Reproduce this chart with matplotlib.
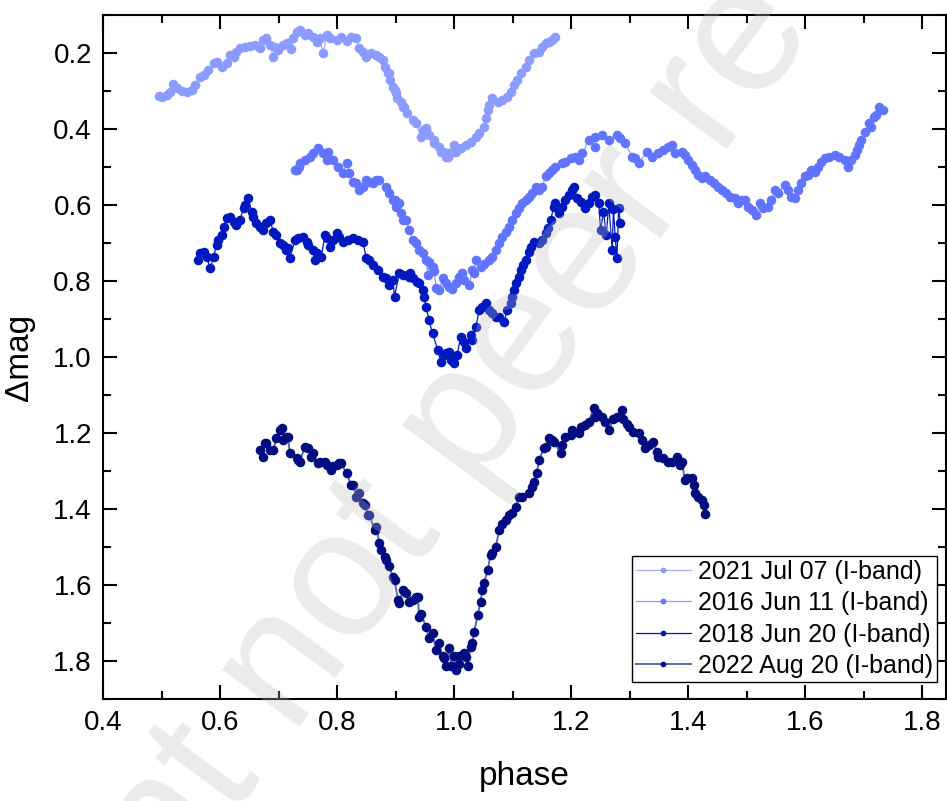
import matplotlib
matplotlib.use("Agg")
import matplotlib.pyplot as plt
from matplotlib.ticker import MultipleLocator
import numpy as np

plt.rcParams['font.family'] = ['Liberation Sans', 'DejaVu Sans']

labels = ["2021 Jul 07 (I-band)", "2016 Jun 11 (I-band)",
          "2018 Jun 20 (I-band)", "2022 Aug 20 (I-band)"]

ph_2021 = [0.495, 0.509, 0.520, 0.535, 0.552, 0.566, 0.589, 0.611, 0.617, 0.634, 0.651, 0.668, 0.679,
           0.691, 0.694, 0.708, 0.722, 0.731, 0.745, 0.759, 0.765, 0.776, 0.782, 0.799, 0.816, 0.833,
           0.838, 0.850, 0.867, 0.872, 0.878, 0.887, 0.889, 0.895, 0.898, 0.903, 0.912, 0.915, 0.929,
           0.943, 0.946, 0.952, 0.957, 0.966, 0.974, 0.977, 0.986, 0.989, 0.991, 0.999, 1.003, 1.020,
           1.037, 1.051, 1.057, 1.065, 1.082, 1.097, 1.108, 1.122, 1.136, 1.150, 1.162, 1.173,
           0.501, 0.515, 0.526, 0.543, 0.557, 0.572, 0.580, 0.594, 0.603, 0.623, 0.628, 0.643, 0.660,
           0.674, 0.685, 0.699, 0.714, 0.725, 0.736, 0.750, 0.770, 0.787, 0.807, 0.824, 0.844, 0.858,
           0.881, 0.890, 0.901, 0.909, 0.920, 0.935, 0.952, 0.966, 0.983, 0.994, 1.011, 1.028, 1.043,
           1.054, 1.060, 1.074, 1.091, 1.102, 1.114, 1.128, 1.145, 1.156, 1.167]
mag_2021 = [0.313, 0.311, 0.282, 0.299, 0.297, 0.262, 0.227, 0.227, 0.205, 0.188, 0.182, 0.188, 0.161,
            0.210, 0.183, 0.179, 0.190, 0.144, 0.153, 0.157, 0.170, 0.201, 0.153, 0.166, 0.168, 0.161,
            0.188, 0.210, 0.205, 0.210, 0.218, 0.253, 0.253, 0.289, 0.297, 0.319, 0.341, 0.341, 0.376,
            0.420, 0.403, 0.403, 0.416, 0.438, 0.447, 0.460, 0.473, 0.474, 0.464, 0.442, 0.460, 0.442,
            0.420, 0.394, 0.350, 0.319, 0.324, 0.302, 0.271, 0.236, 0.201, 0.183, 0.170, 0.159,
            0.317, 0.302, 0.293, 0.302, 0.284, 0.258, 0.245, 0.223, 0.236, 0.210, 0.197, 0.183, 0.179,
            0.166, 0.179, 0.192, 0.174, 0.161, 0.140, 0.148, 0.161, 0.161, 0.157, 0.157, 0.197, 0.201,
            0.236, 0.271, 0.306, 0.328, 0.359, 0.385, 0.398, 0.429, 0.460, 0.464, 0.451, 0.433, 0.411,
            0.372, 0.337, 0.328, 0.315, 0.284, 0.253, 0.218, 0.197, 0.174, 0.166]

ph_2016 = [0.728, 0.731, 0.736, 0.753, 0.767, 0.782, 0.784, 0.793, 0.810, 0.816, 0.827, 0.838, 0.845,
           0.855, 0.867, 0.872, 0.884, 0.889, 0.895, 0.901, 0.906, 0.912, 0.918, 0.929, 0.940, 0.946,
           0.952, 0.955, 0.963, 0.969, 0.974, 0.980, 0.991, 1.003, 1.008, 1.014, 1.026, 1.031, 1.037,
           1.045, 1.060, 1.071, 1.082, 1.094, 1.105, 1.116, 1.122, 1.133, 1.139, 1.150, 1.156, 1.167,
           1.184, 1.207, 1.213, 1.230, 1.241, 1.252, 1.278, 1.292, 1.304, 1.315, 1.329, 1.349, 1.366,
           1.377, 1.389, 1.400, 1.411, 1.423, 1.437, 1.451, 1.465, 1.480, 1.491, 1.502, 1.516, 1.522,
           1.536, 1.548, 1.565, 1.576, 1.587, 1.599, 1.610, 1.621, 1.633, 1.650, 1.667, 1.672, 1.684,
           1.692, 1.701, 1.709, 1.718, 1.726, 1.732,
           1.219, 1.241, 1.264, 1.284, 1.309, 1.338, 1.357, 1.372, 1.394, 1.406, 1.417, 1.428, 1.443,
           1.457, 1.471, 1.485, 1.497, 1.508, 1.528, 1.542, 1.553, 1.570, 1.582, 1.593, 1.604, 1.616,
           1.627, 1.641, 1.658, 1.678, 1.689, 1.695, 1.712, 1.720,
           0.734, 0.745, 0.759, 0.776, 0.801, 0.821, 0.833, 0.850, 0.862, 0.898, 0.909, 0.923, 0.935,
           0.957, 0.966, 0.986, 0.997, 1.017, 1.034, 1.051, 1.065, 1.077, 1.088, 1.099, 1.111, 1.128,
           1.145, 1.162, 1.173, 1.190, 1.199]
mag_2016 = [0.508, 0.508, 0.490, 0.473, 0.451, 0.482, 0.460, 0.482, 0.517, 0.490, 0.539, 0.561, 0.552,
            0.539, 0.534, 0.534, 0.552, 0.569, 0.587, 0.604, 0.596, 0.639, 0.639, 0.692, 0.718, 0.727,
            0.745, 0.784, 0.762, 0.819, 0.824, 0.793, 0.815, 0.806, 0.789, 0.780, 0.811, 0.771, 0.745,
            0.762, 0.745, 0.718, 0.683, 0.657, 0.622, 0.596, 0.587, 0.569, 0.552, 0.552, 0.525, 0.508,
            0.490, 0.473, 0.482, 0.429, 0.447, 0.416, 0.416, 0.438, 0.473, 0.490, 0.460, 0.464, 0.447,
            0.464, 0.460, 0.482, 0.508, 0.530, 0.534, 0.552, 0.569, 0.582, 0.587, 0.604, 0.626, 0.596,
            0.604, 0.561, 0.547, 0.578, 0.561, 0.525, 0.508, 0.499, 0.477, 0.468, 0.482, 0.499, 0.468,
            0.442, 0.407, 0.385, 0.368, 0.341, 0.350,
            0.464, 0.420, 0.429, 0.425, 0.477, 0.473, 0.455, 0.442, 0.468, 0.495, 0.521, 0.525, 0.543,
            0.561, 0.578, 0.596, 0.587, 0.613, 0.609, 0.587, 0.569, 0.561, 0.582, 0.543, 0.521, 0.512,
            0.486, 0.473, 0.473, 0.482, 0.455, 0.429, 0.394, 0.363,
            0.499, 0.482, 0.464, 0.464, 0.499, 0.517, 0.543, 0.534, 0.543, 0.587, 0.622, 0.665, 0.700,
            0.750, 0.775, 0.805, 0.820, 0.797, 0.780, 0.754, 0.736, 0.701, 0.670, 0.640, 0.609, 0.578,
            0.560, 0.517, 0.499, 0.486, 0.477]

ph_2018 = [0.563, 0.572, 0.583, 0.589, 0.594, 0.603, 0.611, 0.623, 0.634, 0.640, 0.648, 0.654, 0.662,
           0.674, 0.685, 0.691, 0.702, 0.716, 0.719, 0.728, 0.742, 0.750, 0.759, 0.762, 0.773, 0.779,
           0.787, 0.799, 0.810, 0.827, 0.844, 0.850, 0.861, 0.878, 0.895, 0.898, 0.906, 0.912, 0.923,
           0.929, 0.940, 0.946, 0.952, 0.957, 0.963, 0.972, 0.977, 0.986, 0.991, 0.999, 1.011, 1.020,
           1.028, 1.037, 1.043, 1.054, 1.065, 1.077, 1.085, 1.091, 1.099, 1.105, 1.114, 1.122, 1.131,
           1.145, 1.156, 1.165, 1.170, 1.179, 1.190, 1.201, 1.210, 1.224, 1.235, 1.247, 1.250, 1.255,
           1.260, 1.264, 1.270, 1.272, 1.275, 1.278, 1.281, 1.284,
           0.566, 0.577, 0.597, 0.606, 0.617, 0.628, 0.643, 0.657, 0.668, 0.679, 0.696, 0.708, 0.713,
           0.733, 0.748, 0.765, 0.782, 0.793, 0.804, 0.818, 0.835, 0.855, 0.869, 0.884, 0.889, 0.925,
           0.937, 0.948, 0.983, 0.994, 1.005, 1.017, 1.031, 1.048, 1.060, 1.071, 1.097, 1.102, 1.111,
           1.117, 1.127, 1.136, 1.150, 1.160, 1.173, 1.184, 1.196, 1.204, 1.216, 1.230, 1.241]
mag_2018 = [0.745, 0.723, 0.767, 0.736, 0.705, 0.679, 0.635, 0.644, 0.639, 0.609, 0.582, 0.618, 0.648,
            0.666, 0.639, 0.670, 0.701, 0.714, 0.740, 0.692, 0.683, 0.705, 0.718, 0.745, 0.736, 0.679,
            0.710, 0.674, 0.697, 0.688, 0.697, 0.740, 0.758, 0.789, 0.797, 0.841, 0.780, 0.784, 0.789,
            0.793, 0.806, 0.824, 0.868, 0.903, 0.938, 0.982, 1.012, 0.990, 0.986, 1.017, 0.947, 0.977,
            0.942, 0.920, 0.876, 0.859, 0.885, 0.894, 0.907, 0.876, 0.841, 0.806, 0.771, 0.745, 0.710,
            0.701, 0.674, 0.639, 0.604, 0.622, 0.587, 0.561, 0.582, 0.609, 0.578, 0.596, 0.666, 0.618,
            0.680, 0.596, 0.718, 0.610, 0.683, 0.740, 0.609, 0.648,
            0.727, 0.736, 0.692, 0.657, 0.631, 0.653, 0.600, 0.631, 0.657, 0.648, 0.679, 0.705, 0.718,
            0.688, 0.697, 0.727, 0.688, 0.692, 0.683, 0.692, 0.692, 0.745, 0.771, 0.793, 0.811, 0.780,
            0.802, 0.841, 0.995, 1.008, 0.995, 0.960, 0.955, 0.868, 0.876, 0.894, 0.859, 0.824, 0.789,
            0.758, 0.723, 0.697, 0.692, 0.661, 0.596, 0.604, 0.574, 0.552, 0.591, 0.596, 0.574]

ph_2022 = [0.668, 0.674, 0.679, 0.691, 0.702, 0.708, 0.716, 0.719, 0.731, 0.736, 0.745, 0.759, 0.770,
           0.782, 0.793, 0.804, 0.816, 0.827, 0.833, 0.844, 0.855, 0.867, 0.875, 0.884, 0.895, 0.906,
           0.912, 0.929, 0.938, 0.940, 0.952, 0.963, 0.974, 0.980, 0.986, 0.991, 1.003, 1.009, 1.017,
           1.023, 1.028, 1.034, 1.040, 1.045, 1.048, 1.057, 1.062, 1.071, 1.077, 1.088, 1.099, 1.111,
           1.128, 1.136, 1.145, 1.156, 1.162, 1.167, 1.182, 1.190, 1.201, 1.213, 1.224, 1.238, 1.241,
           1.252, 1.264, 1.272, 1.286, 1.289, 1.298, 1.315, 1.326, 1.340, 1.349, 1.366, 1.380, 1.389,
           1.394, 1.406, 1.411, 1.423, 1.428,
           0.676, 0.685, 0.696, 0.705, 0.713, 0.733, 0.750, 0.756, 0.767, 0.779, 0.790, 0.799, 0.807,
           0.824, 0.838, 0.848, 0.852, 0.864, 0.872, 0.881, 0.889, 0.898, 0.904, 0.918, 0.923, 0.935,
           0.943, 0.957, 0.969, 0.983, 0.995, 0.999, 1.008, 1.020, 1.031, 1.051, 1.065, 1.082, 1.094,
           1.105, 1.116, 1.133, 1.141, 1.153, 1.170, 1.184, 1.199, 1.216, 1.230, 1.244, 1.258, 1.278,
           1.295, 1.306, 1.321, 1.332, 1.346, 1.357, 1.372, 1.386, 1.397, 1.409, 1.417, 1.426]
mag_2022 = [1.245, 1.262, 1.227, 1.245, 1.192, 1.218, 1.210, 1.253, 1.267, 1.275, 1.236, 1.253, 1.275,
            1.284, 1.288, 1.280, 1.306, 1.337, 1.368, 1.385, 1.416, 1.447, 1.508, 1.535, 1.578, 1.648,
            1.613, 1.639, 1.631, 1.683, 1.710, 1.727, 1.753, 1.788, 1.814, 1.767, 1.824, 1.788, 1.780,
            1.814, 1.762, 1.723, 1.679, 1.644, 1.613, 1.561, 1.521, 1.499, 1.455, 1.429, 1.411, 1.368,
            1.359, 1.328, 1.271, 1.236, 1.214, 1.218, 1.253, 1.210, 1.192, 1.201, 1.179, 1.135, 1.157,
            1.157, 1.192, 1.162, 1.139, 1.162, 1.184, 1.201, 1.240, 1.223, 1.262, 1.275, 1.262, 1.275,
            1.324, 1.319, 1.359, 1.376, 1.413,
            1.227, 1.245, 1.214, 1.188, 1.210, 1.271, 1.240, 1.262, 1.280, 1.275, 1.297, 1.284, 1.280,
            1.337, 1.359, 1.390, 1.416, 1.455, 1.490, 1.525, 1.551, 1.587, 1.640, 1.622, 1.644, 1.631,
            1.675, 1.740, 1.771, 1.793, 1.814, 1.788, 1.809, 1.790, 1.753, 1.595, 1.517, 1.440, 1.416,
            1.394, 1.368, 1.341, 1.306, 1.240, 1.223, 1.232, 1.205, 1.184, 1.170, 1.148, 1.170, 1.157,
            1.175, 1.197, 1.218, 1.232, 1.249, 1.267, 1.275, 1.284, 1.319, 1.337, 1.368, 1.389]

series = [
    (ph_2021, mag_2021, '#8c9bff', '#a3afff', 0.9),
    (ph_2016, mag_2016, '#6074ff', '#8d9bff', 0.9),
    (ph_2018, mag_2018, '#0018bf', '#0018bf', 0.9),
    (ph_2022, mag_2022, '#000c80', '#5a66b0', 1.4),
]

fig = plt.figure(figsize=(9.47, 8.01), dpi=100)
ax = fig.add_axes([0.1088, 0.1273, 0.8900, 0.8540])

for (ph, mag, mc, lc, lw), lab in zip(series, labels):
    order = np.argsort(ph, kind='stable')
    x = np.asarray(ph)[order]
    y = np.asarray(mag)[order]
    ax.plot(x, y, '-', color=lc, lw=lw, marker='o', ms=6.9,
            mfc=mc, mec=mc, mew=0, label=lab)

ax.set_xlim(0.4, 1.84)
ax.set_ylim(1.9, 0.1)
ax.xaxis.set_major_locator(MultipleLocator(0.2))
ax.xaxis.set_minor_locator(MultipleLocator(0.1))
ax.yaxis.set_major_locator(MultipleLocator(0.2))
ax.yaxis.set_minor_locator(MultipleLocator(0.1))
ax.xaxis.set_major_formatter(plt.FuncFormatter(lambda v, p: f"{v:.1f}"))
ax.yaxis.set_major_formatter(plt.FuncFormatter(lambda v, p: f"{v:.1f}"))
ax.tick_params(which='both', direction='in', top=True, right=True, width=1.5,
               labelsize=20, pad=8)
ax.tick_params(which='major', length=10)
ax.tick_params(which='minor', length=5.5)
for s in ax.spines.values():
    s.set_linewidth(1.5)

ax.set_xlabel('phase', fontsize=24, labelpad=18)
ax.set_ylabel('Δmag', fontsize=24, labelpad=13)

leg = ax.legend(loc='lower right', bbox_to_anchor=(0.9893, 0.0249), borderaxespad=0,
                fontsize=18, frameon=True, fancybox=False,
                edgecolor='black', framealpha=1, markerscale=0.6,
                handlelength=2.2, handletextpad=0.3, labelspacing=0.3,
                borderpad=0.15)
leg.get_frame().set_linewidth(1.0)

fig.text(0.508, 0.497, 'Preprint not peer reviewed', rotation=53.5, ha='center', va='center',
         fontsize=131, color=(190/255, 190/255, 190/255), alpha=0.3, zorder=10,
         rotation_mode='anchor')

fig.savefig('out.png', dpi=100)
